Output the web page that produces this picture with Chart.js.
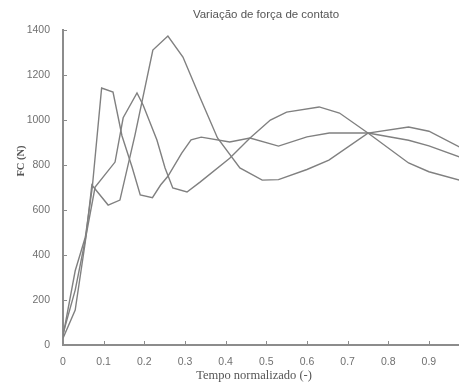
<!DOCTYPE html>
<html>
<head>
<meta charset="utf-8">
<script src="https://cdn.jsdelivr.net/npm/chart.js@4"></script>
<style>
html,body{margin:0;padding:0;background:#fff;}
#c{display:block;}
</style>
</head>
<body>
<canvas id="c" width="459" height="385"></canvas>
<script>
const chartTitle = "Variação de força de contato";
const xTitle = "Tempo normalizado (-)";
const yTitle = "FC (N)";

const xTickLabels = ["0","0.1","0.2","0.3","0.4","0.5","0.6","0.7","0.8","0.9"];
const yTickLabels = ["0","200","400","600","800","1000","1200","1400"];

const t1 = [0, 0.03, 0.055, 0.072, 0.095, 0.123, 0.145, 0.17, 0.19, 0.22, 0.24, 0.258, 0.292, 0.315, 0.34, 0.41, 0.46, 0.53, 0.6, 0.655, 0.75, 0.85, 0.9, 0.975];
const f1 = [40, 330, 480, 700, 1142, 1124, 930, 790, 667, 655, 711, 750, 853, 912, 924, 902, 920, 884, 925, 942, 942, 910, 885, 836];

const t2 = [0, 0.03, 0.055, 0.079, 0.128, 0.148, 0.182, 0.197, 0.231, 0.251, 0.27, 0.305, 0.337, 0.41, 0.46, 0.51, 0.55, 0.63, 0.68, 0.75, 0.85, 0.9, 0.975];
const f2 = [50, 244, 470, 702, 813, 1010, 1120, 1067, 911, 787, 698, 680, 724, 830, 920, 1000, 1035, 1058, 1031, 942, 809, 770, 733];

const t3 = [0, 0.03, 0.055, 0.071, 0.111, 0.14, 0.177, 0.221, 0.258, 0.295, 0.337, 0.38, 0.435, 0.49, 0.53, 0.6, 0.654, 0.75, 0.85, 0.9, 0.975];
const f3 = [30, 155, 460, 711, 622, 644, 933, 1311, 1373, 1280, 1100, 920, 787, 733, 735, 780, 822, 942, 969, 950, 880];

const LINE = '#808080';
const AXIS = '#8c8c8c';
const TXT = '#707070';

function pts(xs, ys){ return xs.map((x,i)=>({x:x, y:ys[i]})); }

const textPlugin = {
  id: 'texts',
  afterDraw(chart){
    const ctx = chart.ctx;
    const xs = chart.scales.x, ys = chart.scales.y;
    ctx.save();
    ctx.strokeStyle = AXIS;
    ctx.lineWidth = 1;
    ctx.beginPath();
    xs.ticks.forEach(t=>{
      const p = Math.round(xs.getPixelForValue(t.value)) + 0.5;
      ctx.moveTo(p, ys.bottom); ctx.lineTo(p, ys.bottom - 4);
    });
    ys.ticks.forEach(t=>{
      const p = Math.round(ys.getPixelForValue(t.value)) + 0.5;
      ctx.moveTo(xs.left, p); ctx.lineTo(xs.left + 4, p);
    });
    ctx.stroke();
    ctx.fillStyle = '#555';
    ctx.textAlign = 'center';
    ctx.textBaseline = 'middle';
    ctx.font = '11.5px "Liberation Sans", Arial, sans-serif';
    ctx.fillText(chartTitle, 266, 15);
    ctx.font = '12.5px "Liberation Serif", "Times New Roman", serif';
    ctx.fillText(xTitle, 254, 376);
    ctx.translate(21, 161);
    ctx.rotate(-Math.PI/2);
    ctx.font = 'bold 10.5px "Liberation Serif", "Times New Roman", serif';
    ctx.fillText(yTitle, 0, 0);
    ctx.restore();
  }
};

const ds = (d)=>({data:d, borderColor:LINE, borderWidth:1.4, pointRadius:0, tension:0, fill:false});

new Chart(document.getElementById('c'), {
  type: 'line',
  data: { datasets: [ ds(pts(t1,f1)), ds(pts(t2,f2)), ds(pts(t3,f3)) ] },
  options: {
    responsive: false,
    animation: false,
    devicePixelRatio: 1,
    layout: { padding: { top: 30, left: 0, right: 0, bottom: 0 } },
    plugins: { legend: { display: false }, title: { display: false }, tooltip: { enabled: false } },
    scales: {
      x: {
        type: 'linear', min: 0, max: 0.974,
        grid: { display: false },
        border: { display: true, color: AXIS, width: 2 },
        ticks: {
          stepSize: 0.1, includeBounds: false, autoSkip: false, maxRotation: 0,
          padding: 3, color: TXT,
          font: { family: '"Liberation Sans", Arial, sans-serif', size: 10.5 },
          callback: (v)=>{ const i = Math.round(v*10); return (i>=0 && i<xTickLabels.length && Math.abs(v*10-i)<1e-6) ? xTickLabels[i] : ''; }
        },
        afterFit: (s)=>{ s.height = 40; }
      },
      y: {
        min: 0, max: 1400,
        grid: { display: false },
        border: { display: true, color: AXIS, width: 2 },
        ticks: {
          stepSize: 200, padding: 5, color: TXT,
          font: { family: '"Liberation Sans", Arial, sans-serif', size: 10.5 },
          callback: (v)=>{ const i = Math.round(v/200); return yTickLabels[i] ?? ''; }
        },
        afterFit: (s)=>{ s.width = 63; }
      }
    }
  },
  plugins: [textPlugin]
});
</script>
</body>
</html>
